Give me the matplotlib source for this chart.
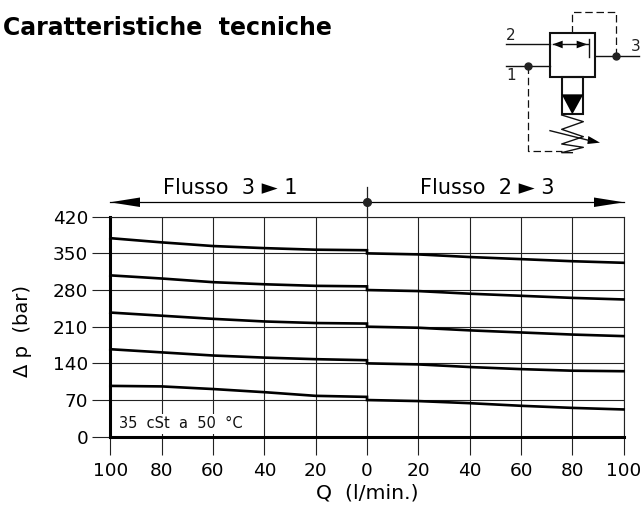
import matplotlib
matplotlib.use("Agg")
import matplotlib.pyplot as plt
from matplotlib.patches import Polygon, Rectangle

plt.rcParams['font.family'] = ['DejaVu Sans']

# flow Q (l/min), left half is 3 -> 1 and right half is 2 -> 3
q_left = [-100, -80, -60, -40, -20, 0]
q_right = [0, 20, 40, 60, 80, 100]

left_curves = [
    [379, 371, 364, 360, 357, 356],
    [308, 302, 295, 291, 288, 287],
    [237, 231, 225, 220, 217, 216],
    [167, 161, 155, 151, 148, 146],
    [97, 96, 91, 85, 78, 76],
]
right_curves = [
    [350, 348, 343, 339, 335, 332],
    [280, 278, 273, 269, 265, 262],
    [210, 208, 203, 199, 195, 192],
    [140, 138, 133, 129, 126, 125],
    [70, 68, 64, 59, 55, 52],
]

x_ticks = [-100, -80, -60, -40, -20, 0, 20, 40, 60, 80, 100]
x_labels = ['100', '80', '60', '40', '20', '0', '20', '40', '60', '80', '100']
y_ticks = [0, 70, 140, 210, 280, 350, 420]

W, H = 642, 507
fig = plt.figure(figsize=(W / 100, H / 100), dpi=100)
ax = fig.add_axes([110.3 / W, 1 - 436.7 / H, (623.7 - 110.3) / W, 220 / H])

for left, right in zip(left_curves, right_curves):
    # small step down where the two halves meet at Q = 0
    ax.plot(q_left + q_right, left + right, color='black', lw=1.9, zorder=4,
            solid_joinstyle='miter', clip_on=False)

ax.set_xlim(-100, 100)
ax.set_ylim(0, 420)
ax.set_xticks(x_ticks)
ax.set_xticklabels(x_labels)
ax.set_yticks(y_ticks)
ax.tick_params(axis='y', length=13, width=0.8, color='#222222', labelsize=13.3, pad=3)
ax.tick_params(axis='x', length=13, width=0.8, color='#222222', labelsize=13.3, pad=5)
ax.grid(True, color='#222222', lw=0.8)
ax.set_axisbelow(True)

for side in ['top', 'right']:
    ax.spines[side].set_linewidth(0.8)
    ax.spines[side].set_color('#222222')
ax.spines['left'].set_linewidth(2.2)
ax.spines['bottom'].set_linewidth(2.2)

ax.set_ylabel('Δ p  (bar)', fontsize=14)
ax.yaxis.set_label_coords(-0.1525, 0.48)
ax.set_xlabel('Q  (l/min.)', fontsize=14.7, labelpad=3)

ax.text(-96.5, 10, '35  cSt  a  50  °C', fontsize=10.5, color='#111111', va='bottom', ha='left',
        zorder=3, bbox=dict(facecolor='white', edgecolor='none', pad=2))

# overlay in pixel coordinates for title, flow arrows and the valve symbol
ov = fig.add_axes([0, 0, 1, 1])
ov.set_xlim(0, W)
ov.set_ylim(H, 0)
ov.axis('off')
ov.patch.set_alpha(0)

ov.text(3, 28, 'Caratteristiche  tecniche', fontsize=17, fontweight='bold', va='center', ha='left')

# flow arrows above the chart
ov.plot([110, 624], [202.3, 202.3], color='black', lw=0.9)
ov.plot([367, 367], [187, 217], color='#222222', lw=0.9)
ov.plot([367], [202.3], 'o', color='#222222', ms=5.5)
ov.add_patch(Polygon([[110, 202.3], [140, 197.5], [140, 207]], color='black', lw=0))
ov.add_patch(Polygon([[624, 202.3], [594, 197.5], [594, 207]], color='black', lw=0))
ov.text(230, 188, 'Flusso  3 ► 1', fontsize=15, ha='center', va='center')
ov.text(487, 188, 'Flusso  2 ► 3', fontsize=15, ha='center', va='center')


def sym(pts):
    # symbol points measured on a 3x crop starting at x = 480
    return [[480 + x / 3, y / 3] for x, y in pts]


def sym_line(pts, **kw):
    xy = sym(pts)
    ov.plot([p[0] for p in xy], [p[1] for p in xy], color='#111111', **kw)


solid = dict(lw=1.0)
dashed = dict(lw=0.9, dashes=(6, 3))

sym_line([(78, 133), (210, 133)], **solid)
sym_line([(78, 199), (210, 199)], **solid)
sym_line([(345, 167), (478, 167)], **solid)
sym_line([(277, 100), (277, 35), (408, 35), (408, 167)], **dashed)
sym_line([(145, 199), (145, 452), (245, 452)], **dashed)

ov.add_patch(Rectangle((480 + 210 / 3, 100 / 3), 135 / 3, 132 / 3, fill=False, ec='#111111', lw=1.5))
ov.add_patch(Rectangle((480 + 245 / 3, 232 / 3), 65 / 3, 111 / 3, fill=False, ec='#111111', lw=1.5))
ov.add_patch(Polygon(sym([(245, 283), (310, 283), (277, 343)]), color='black', lw=0))

sym_line([(218, 133), (325, 133)], **solid)
sym_line([(326, 117), (326, 172)], **solid)
ov.add_patch(Polygon(sym([(218, 133), (248, 122), (248, 145)]), color='black', lw=0))
ov.add_patch(Polygon(sym([(322, 133), (290, 122), (290, 145)]), color='black', lw=0))

sym_line([(245, 345), (310, 365), (245, 388), (310, 410), (245, 432), (310, 442), (245, 458), (277, 458)], **solid)
sym_line([(210, 392), (330, 422)], **solid)
ov.add_patch(Polygon(sym([(360, 428), (325, 408), (322, 432)]), color='black', lw=0))

for pt in [(145, 199), (408, 167)]:
    xy = sym([pt])[0]
    ov.plot([xy[0]], [xy[1]], 'o', color='#222222', ms=5)

for label, pt in [('2', (93, 108)), ('1', (92, 228)), ('3', (467, 140))]:
    xy = sym([pt])[0]
    ov.text(xy[0], xy[1], label, fontsize=11, ha='center', va='center', color='#222222')

fig.savefig('out.png', dpi=100)
